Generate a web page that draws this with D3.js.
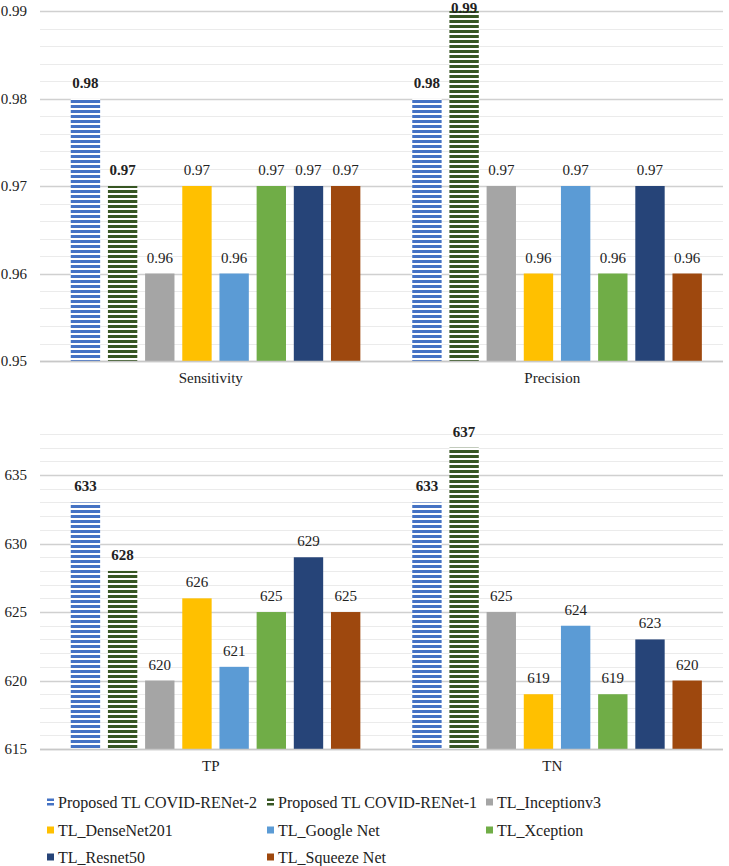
<!DOCTYPE html>
<html>
<head>
<meta charset="utf-8">
<script src="https://cdn.jsdelivr.net/npm/d3@7"></script>
<style>
  html, body { margin: 0; padding: 0; background: #fff; }
  svg, svg text { font-family: "Liberation Serif", "Tinos", "DejaVu Serif", "Noto Serif", "Times New Roman", serif !important; }
  svg { display: block; }
</style>
</head>
<body>
<svg id="chart" width="729" height="866"></svg>
<script>
const series = ["Proposed TL COVID-RENet-2", "Proposed TL COVID-RENet-1", "TL_Inceptionv3",
  "TL_DenseNet201", "TL_Google Net", "TL_Xception", "TL_Resnet50", "TL_Squeeze Net"];
const colors = ["#4472C4", "#375623", "#A5A5A5", "#FFC000", "#5B9BD5", "#70AD47", "#264478", "#9E480E"];
const striped = [true, true, false, false, false, false, false, false];

const topCategories = ["Sensitivity", "Precision"];
const topValues = [
  [0.98, 0.97, 0.96, 0.97, 0.96, 0.97, 0.97, 0.97],
  [0.98, 0.99, 0.97, 0.96, 0.97, 0.96, 0.97, 0.96]
];
const topTicks = [0.95, 0.96, 0.97, 0.98, 0.99];

const bottomCategories = ["TP", "TN"];
const bottomValues = [
  [633, 628, 620, 626, 621, 625, 629, 625],
  [633, 637, 625, 619, 624, 619, 623, 620]
];
const bottomTicks = [615, 620, 625, 630, 635];

const svg = d3.select("#chart");
const defs = svg.append("defs");
colors.forEach((c, i) => {
  if (!striped[i]) return;
  const p = defs.append("pattern").attr("id", "stripe" + i)
    .attr("patternUnits", "userSpaceOnUse").attr("width", 10).attr("height", 5);
  p.append("rect").attr("width", 10).attr("height", 5).attr("fill", "#fff");
  p.append("rect").attr("width", 10).attr("height", 3).attr("fill", c);
});
const fillOf = i => striped[i] ? `url(#stripe${i})` : colors[i];

const X0 = 40, X1 = 723;
const FONT = '"Liberation Serif", "Tinos", "DejaVu Serif", serif';

function panel(cfg) {
  const { cats, vals, ticks, domain, top, bottom, minorStep, fmt, labelFmt } = cfg;
  const y = d3.scaleLinear().domain(domain).range([bottom, top]);
  const x = d3.scaleBand().domain(cats).range([X0, X1]).paddingInner(0).paddingOuter(0);
  const step = 36.2, bw = 28.6;
  const xs = d3.scaleBand().domain(d3.range(series.length))
    .range([0, step * series.length]).paddingInner((step - bw) / step).paddingOuter(0);
  const g = svg.append("g");

  const minor = d3.range(domain[0], domain[1] + minorStep / 2, minorStep);
  g.append("g").selectAll("line").data(minor).join("line")
    .attr("x1", X0).attr("x2", X1)
    .attr("y1", d => Math.round(y(d)) + 0.5).attr("y2", d => Math.round(y(d)) + 0.5)
    .attr("stroke", "#ebebeb").attr("stroke-width", 1);
  g.append("g").selectAll("line").data(ticks).join("line")
    .attr("x1", X0).attr("x2", X1)
    .attr("y1", d => Math.round(y(d)) + 0.5).attr("y2", d => Math.round(y(d)) + 0.5)
    .attr("stroke", "#d0d0d0").attr("stroke-width", 1.3);

  const yAxis = d3.axisLeft(y).tickValues(ticks).tickSize(0).tickPadding(0).tickFormat(fmt);
  const ya = g.append("g").attr("transform", `translate(27,0)`).call(yAxis)
    .attr("font-family", FONT);
  ya.select(".domain").remove();
  ya.selectAll("text").attr("font-size", 15).attr("fill", "#222").style("font-family", FONT);

  cats.forEach((c, ci) => {
    const groupW = step * series.length - (step - bw);
    const gx = x(c) + x.bandwidth() / 2 - groupW / 2 + 1;
    const cg = g.append("g").attr("transform", `translate(${gx},0)`);
    cg.selectAll("rect").data(vals[ci]).join("rect")
      .attr("x", (d, i) => xs(i)).attr("width", xs.bandwidth())
      .attr("y", d => y(d)).attr("height", d => y(domain[0]) - y(d))
      .attr("fill", (d, i) => fillOf(i));
    cg.selectAll("text").data(vals[ci]).join("text")
      .attr("x", (d, i) => xs(i) + xs.bandwidth() / 2)
      .attr("y", d => Math.max(y(d) - 11, 12.5))
      .attr("text-anchor", "middle").attr("font-size", 15).attr("fill", "#222")
      .attr("font-weight", (d, i) => striped[i] ? "bold" : "normal")
      .style("font-family", FONT)
      .text(labelFmt);
  });

  g.append("line").attr("x1", X0).attr("x2", X1)
    .attr("y1", Math.round(bottom) + 0.5).attr("y2", Math.round(bottom) + 0.5)
    .attr("stroke", "#c8c8c8").attr("stroke-width", 1.3);

  const xAxis = d3.axisBottom(x).tickSize(0).tickPadding(0);
  const xa = g.append("g").attr("transform", `translate(0,${bottom + 11})`).call(xAxis)
    .attr("font-family", FONT);
  xa.select(".domain").remove();
  xa.selectAll("text").attr("font-size", 15).attr("fill", "#222")
    .style("font-family", FONT).attr("dy", "0.71em");
}

panel({ cats: topCategories, vals: topValues, ticks: topTicks, domain: [0.95, 0.99],
  top: 11, bottom: 361, minorStep: 0.002, fmt: d3.format(".2f"), labelFmt: d3.format(".2f") });
panel({ cats: bottomCategories, vals: bottomValues, ticks: bottomTicks, domain: [615, 638],
  top: 434, bottom: 749, minorStep: 1, fmt: d3.format("d"), labelFmt: d3.format("d") });

const legendCols = [47, 267, 486];
const legendRows = [802, 830, 857];
const lg = svg.append("g");
series.forEach((s, i) => {
  const cx = legendCols[i % 3], cy = legendRows[Math.floor(i / 3)];
  const item = lg.append("g").attr("transform", `translate(${cx},${cy})`);
  if (striped[i]) {
    item.append("rect").attr("x", 0).attr("y", -3.5).attr("width", 7).attr("height", 2.5).attr("fill", colors[i]);
    item.append("rect").attr("x", 0).attr("y", 1).attr("width", 7).attr("height", 2.5).attr("fill", colors[i]);
  } else {
    item.append("rect").attr("x", 0).attr("y", -3.5).attr("width", 7).attr("height", 7).attr("fill", colors[i]);
  }
  item.append("text").attr("x", 11).attr("y", 0).attr("dy", "0.35em")
    .attr("font-size", 16).attr("fill", "#222").style("font-family", FONT).text(s);
});
</script>
</body>
</html>
